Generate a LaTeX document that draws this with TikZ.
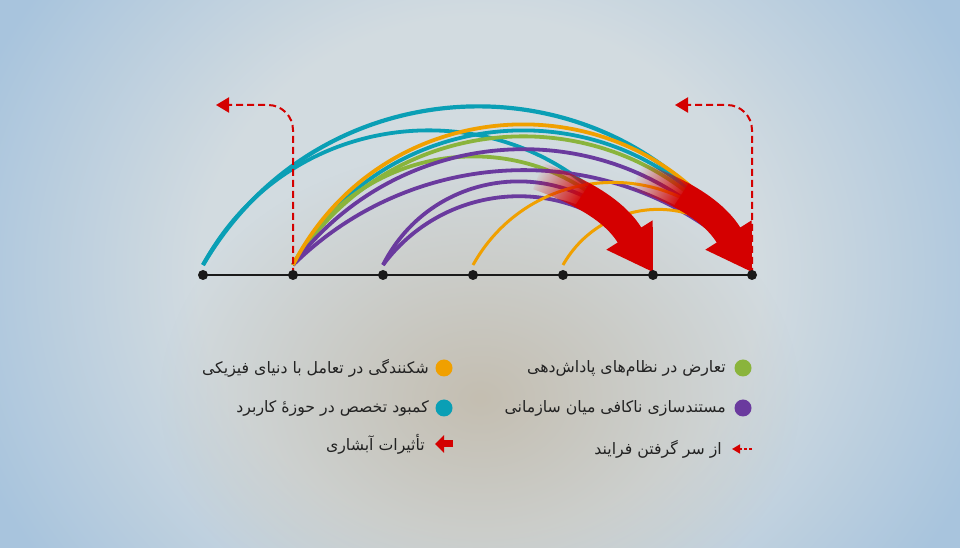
\documentclass[tikz,border=0pt]{standalone}
\usepackage{fontspec}
\usetikzlibrary{arrows.meta,fadings}
\TeXXeTstate=1
\newfontfamily\arabicfont[Script=Arabic]{DejaVu Sans}
\definecolor{tealc}{HTML}{0A9FB5}
\definecolor{orangec}{HTML}{F0A000}
\definecolor{greenc}{HTML}{8AB43C}
\definecolor{purplec}{HTML}{6A3A9E}
\definecolor{redc}{HTML}{D40000}
\definecolor{bglight}{HTML}{D2DBE0}
\definecolor{bgblue}{HTML}{A8C4DD}
\definecolor{bgwarm}{HTML}{C4BEB1}
\definecolor{ink}{HTML}{1A1A1A}
\definecolor{txt}{HTML}{222222}
\pgfdeclareradialshading{bgshade}{\pgfpoint{0bp}{0bp}}{color(0bp)=(bglight); color(13bp)=(bglight); color(25bp)=(bgblue); color(50bp)=(bgblue)}
\tikzfading[name=warmfade, inner color=transparent!0, outer color=transparent!100]
\tikzfading[name=tailfade, left color=transparent!100, right color=transparent!0]
\tikzset{
  arcline/.style={line width=3.8pt},
  thinarc/.style={line width=3pt},
  dot/.style={circle, fill=ink, inner sep=0pt, minimum size=10pt},
  legdot/.style={circle, inner sep=0pt, minimum size=17pt},
  legtext/.style={anchor=east, text=txt, font=\arabicfont\fontsize{15.75}{18}\selectfont, inner sep=0pt},
  loopline/.style={redc, line width=2pt, dash pattern=on 7pt off 4pt, rounded corners=25pt, -{Triangle[width=15pt,length=13pt]}},
  cascade/.pic={
    \fill[redc, path fading=tailfade, fading angle=-25]
      (-110.2,109.2) .. controls (-93.32,103.28) and (-77.19,96.37) .. (-62.71,88.41)
      -- (-78.13,64.96) .. controls (-90.63,71.52) and (-104.76,77.36) .. (-119.8,82.8) -- cycle;
    \fill[redc]
      (-63.2,88.7) .. controls (-40.99,76.48) and (-22.98,62.2) .. (-11.7,44.5)
      -- (-0.3,51.7) -- (0,0) -- (-46.7,22.3) -- (-35.3,29.5)
      .. controls (-44.3,43.66) and (-59.38,55.12) .. (-78.6,65.2) -- cycle;}
}
\begin{document}
\begin{tikzpicture}[x=1pt,y=1pt]
\useasboundingbox (0,0) rectangle (960,548);
\begin{scope}
  \clip (0,0) rectangle (960,548);
  \shade[shading=bgshade] (-60,-220) rectangle (1020,768);
  \fill[bgwarm, path fading=warmfade] (480,150) ellipse [x radius=320, y radius=250];
\end{scope}
% axis positions
\foreach \i/\x in {1/203,2/293,3/383,4/473,5/563,6/653,7/752} {
  \coordinate (n\i) at (\x,273);
  \coordinate (s\i) at (\x,283);
}
\coordinate (e6) at (650,286);
\coordinate (e7) at (749,286);
% arcs
\draw[arcline, tealc, line width=4.2pt] (s1) to[out=59.8,in=120.2,looseness=1.134] (e7);
\draw[arcline, tealc] (s1) to[out=61.6,in=118.4,looseness=1.153] (e6);
\draw[arcline, tealc] (s2) to[out=60.6,in=119.4,looseness=1.141] (e7);
\draw[arcline, greenc] (s2) to[out=58.3,in=121.7,looseness=1.116] (e7);
\draw[arcline, greenc] (s2) to[out=61.9,in=118.1,looseness=1.158] (e6);
\draw[arcline, purplec] (s2) to[out=53.2,in=126.8,looseness=1.066] (e7);
\draw[arcline, purplec] (s2) to[out=44.6,in=135.4,looseness=0.993] (e7);
\draw[arcline, purplec] (s3) to[out=63.2,in=116.8,looseness=1.173] (e6);
\draw[arcline, purplec] (s3) to[out=53.5,in=126.5,looseness=1.067] (e6);
\draw[arcline, orangec] (s2) to[out=62.8,in=117.2,looseness=1.168] (e7);
\draw[thinarc, orangec] (s4) to[out=60.9,in=119.1,looseness=1.145] (e7);
\draw[thinarc, orangec] (s5) to[out=60.4,in=119.6,looseness=1.139] (e7);
% cascade arrows
\pic at ([yshift=3pt]n6) {cascade};
\pic at ([yshift=3pt]n7) {cascade};
% restart loops
\coordinate (lt) at (216,443);
\coordinate (rt) at (675,443);
\draw[loopline] (n2) |- (lt);
\draw[loopline] (n7) |- (rt);
% axis and dots
\draw[ink, line width=2pt] (n1) -- (n7);
\foreach \i in {1,...,7} \node[dot] (d\i) at (n\i) {};
% legend
\node[legdot, fill=greenc] (lg1) at (743,180) {};
\node[legtext] (t1) at (726,180) {\beginR تعارض در نظام‌های پاداش‌دهی\endR};
\node[legdot, fill=purplec] (lg2) at (743,140) {};
\node[legtext] (t2) at (726,140) {\beginR مستندسازی ناکافی میان سازمانی\endR};
\coordinate (la1) at (752,99);
\coordinate (la2) at (732,99);
\draw[redc, line width=1.6pt, dash pattern=on 3pt off 2pt, -{Triangle[width=9pt,length=8pt]}] (la1) -- (la2);
\node[legtext] (t3) at (722,99) {\beginR از سر گرفتن فرایند\endR};
\node[legdot, fill=orangec] (lg4) at (444,180) {};
\node[legtext] (t4) at (429,180) {\beginR شکنندگی در تعامل با دنیای فیزیکی\endR};
\node[legdot, fill=tealc] (lg5) at (444,140) {};
\node[legtext] (t5) at (429,140) {\beginR کمبود تخصص در حوزهٔ کاربرد\endR};
\coordinate (lb1) at (453,104);
\coordinate (lb2) at (435,104);
\draw[redc, line width=7pt, -{Triangle[width=17pt,length=9pt]}] (lb1) -- (lb2);
\node[legtext] (t6) at (425,104) {\beginR تأثیرات آبشاری\endR};
\end{tikzpicture}
\end{document}
